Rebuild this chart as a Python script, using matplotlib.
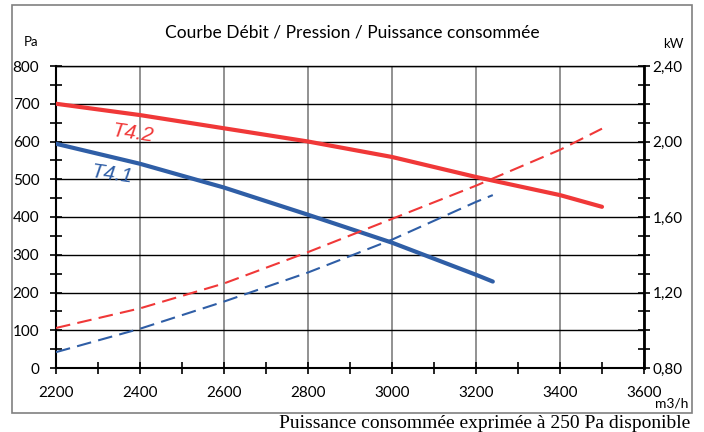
import matplotlib
matplotlib.use("Agg")
import matplotlib.pyplot as plt
import matplotlib.ticker as mtick
from matplotlib.patches import Rectangle

plt.rcParams['font.family'] = ['Lato', 'DejaVu Sans']

# pressure curves (Pa)
flow_t42 = [2200, 2400, 2600, 2800, 3000, 3200, 3400, 3500]
pa_t42 = [700, 670, 635, 600, 559, 506, 458, 427]
flow_t41 = [2200, 2400, 2600, 2800, 3000, 3200, 3240]
pa_t41 = [594, 541, 478, 406, 332, 247, 229]

# power curves (kW)
flow_p42 = [2200, 2400, 2600, 2800, 3000, 3200, 3400, 3500]
kw_p42 = [1.012, 1.116, 1.248, 1.414, 1.590, 1.766, 1.956, 2.068]
flow_p41 = [2200, 2400, 2600, 2800, 3000, 3200, 3240]
kw_p41 = [0.884, 1.008, 1.152, 1.306, 1.480, 1.680, 1.716]

red = '#F03838'
blue = '#2F5EA6'

fig = plt.figure(figsize=(7.04, 4.32), dpi=100)
ax = fig.add_axes([56/704, 1-368/432, (644-56)/704, (368-66)/432])

# outer frame
fig.patches.append(Rectangle((12/704, 1-413/432), 680/704, 408/432, transform=fig.transFigure,
                             fill=False, edgecolor='#808080', linewidth=1.2))

ax.set_xlim(2200, 3600)
ax.set_ylim(0, 800)
ax.set_xticks(range(2200, 3601, 200))
ax.xaxis.set_minor_locator(mtick.MultipleLocator(100))
ax.set_yticks(range(0, 801, 100))
ax.yaxis.set_minor_locator(mtick.MultipleLocator(50))
ax.tick_params(axis='both', which='both', direction='inout', length=8, width=1.2, labelsize=11, color='black')
ax.tick_params(axis='x', pad=9)
ax.tick_params(axis='y', pad=8)
for x in range(2400, 3601, 200):
    ax.axvline(x, color='#7f7f7f', lw=1.2, zorder=1)
for y in range(100, 801, 100):
    ax.axhline(y, color='black', lw=1.0, zorder=1)
for s in ['left', 'bottom']:
    ax.spines[s].set_linewidth(1.5)
ax.spines['top'].set_linewidth(1.0)
ax.spines['right'].set_visible(False)

ax.plot(flow_t42, pa_t42, color=red, lw=3, solid_capstyle='round', zorder=3)
ax.plot(flow_t41, pa_t41, color=blue, lw=3, solid_capstyle='round', zorder=3)

ax2 = ax.twinx()
ax2.set_ylim(0.8, 2.4)
ax2.yaxis.set_major_locator(mtick.MultipleLocator(0.1))
ax2.yaxis.set_major_formatter(mtick.FuncFormatter(
    lambda v, p: ('%.2f' % v).replace('.', ',') if abs(round(v * 10) % 4) == 0 else ''))
ax2.tick_params(axis='y', direction='inout', length=8, width=1.2, labelsize=11, pad=2)
ax2.spines['right'].set_linewidth(2)
for s in ['left', 'bottom', 'top']:
    ax2.spines[s].set_visible(False)
ax2.plot(flow_p42, kw_p42, color=red, lw=1.5, dashes=(7, 3.5), zorder=3)
ax2.plot(flow_p41, kw_p41, color=blue, lw=1.5, dashes=(7, 3.5), zorder=3)

ax.text(2383, 622, 'T4.2', color=red, fontsize=15, style='italic', rotation=-8,
        family=['Liberation Sans', 'DejaVu Sans'], ha='center', va='center', zorder=4)
ax.text(2332, 512, 'T4.1', color=blue, fontsize=15, style='italic', rotation=-8,
        family=['Liberation Sans', 'DejaVu Sans'], ha='center', va='center', zorder=4)

fig.text(352/704, 1-32/432, 'Courbe Débit / Pression / Puissance consommée', fontsize=12.5,
         ha='center', va='center')
fig.text(31/704, 1-42/432, 'Pa', fontsize=9.5, ha='center', va='center')
fig.text(673/704, 1-44/432, 'kW', fontsize=9.5, ha='center', va='center')
fig.text(688/704, 1-404/432, 'm3/h', fontsize=10, ha='right', va='center')
fig.text(690/704, 1-424/432, 'Puissance consommée exprimée à 250 Pa disponible', fontsize=14,
         family=['Liberation Serif', 'DejaVu Serif'], ha='right', va='center')

fig.savefig('out.png', dpi=100)
